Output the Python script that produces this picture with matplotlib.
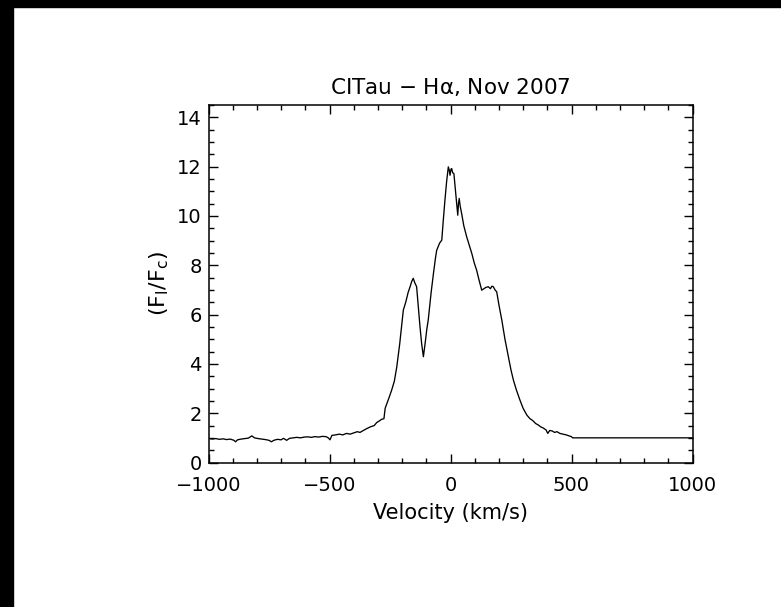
import matplotlib
matplotlib.use('Agg')
import matplotlib.pyplot as plt
from matplotlib.ticker import MultipleLocator
from matplotlib.patches import Rectangle

plt.rcParams['font.family'] = ['DejaVu Sans']
plt.rcParams['mathtext.default'] = 'regular'

# H-alpha profile (velocity in km/s, normalised flux)
vel = [-1000, -985, -970, -955, -940, -925, -910, -895, -888, -880, -865, -850,
       -835, -821, -810, -795, -780, -765, -750, -740, -730, -715, -700, -690,
       -677, -665, -650, -635, -620, -605, -590, -575, -560, -545, -530, -515,
       -505, -498, -490, -475, -460, -445, -430, -415, -400, -385, -374, -360,
       -345, -330, -315, -305, -295, -285, -275,
       -270, -255, -243, -232, -222, -210, -200, -195, -185, -175, -167, -160,
       -154, -148, -140, -133, -126, -119, -112, -104, -98, -92, -80, -70, -62,
       -57, -45, -36, -30, -23, -16, -9, -5, -2, 2, 5, 9, 14, 18, 24, 30, 33,
       36, 40, 46, 55, 67, 78, 88, 98, 108, 118, 129, 138, 146, 156, 165, 171,
       177, 184, 191, 200, 212, 225, 239, 250, 260, 272, 287, 300, 315, 328,
       340, 352, 363, 372, 383, 395, 402, 410, 420, 430, 440, 452, 465, 478,
       490, 499, 505, 1000]
flux = [0.98, 0.95, 0.97, 0.94, 0.96, 0.93, 0.95, 0.90, 0.84, 0.92, 0.95, 0.97,
        0.99, 1.08, 1.00, 0.97, 0.95, 0.93, 0.90, 0.84, 0.90, 0.94, 0.92, 0.98,
        0.90, 0.98, 1.00, 1.02, 1.00, 1.03, 1.04, 1.02, 1.05, 1.03, 1.06, 1.05,
        1.00, 0.92, 1.10, 1.12, 1.15, 1.12, 1.18, 1.15, 1.20, 1.25, 1.22, 1.30,
        1.38, 1.45, 1.50, 1.62, 1.68, 1.75, 1.78,
        2.2, 2.6, 2.94, 3.3, 3.88, 4.8, 5.7, 6.18, 6.5, 6.9, 7.13, 7.35,
        7.47, 7.3, 7.13, 6.3, 5.5, 4.8, 4.29, 4.9, 5.4, 5.78, 6.9, 7.7, 8.3,
        8.61, 8.9, 9.02, 9.8, 10.64, 11.4, 11.99, 11.85, 11.65, 11.9, 11.92,
        11.75, 11.72, 11.3, 10.7, 10.03, 10.5,
        10.71, 10.4, 10.1, 9.6, 9.15, 8.8, 8.48, 8.1, 7.8, 7.4, 6.99, 7.05, 7.1,
        7.13, 7.05, 7.15, 7.13, 7.0, 6.92, 6.4, 5.78, 5.0, 4.29, 3.75, 3.34,
        2.95, 2.53, 2.2, 1.93, 1.78, 1.70, 1.58, 1.52, 1.45, 1.40, 1.32, 1.18,
        1.30, 1.28, 1.22, 1.25, 1.18, 1.15, 1.12, 1.08, 1.05, 1.0, 1.0]

fig = plt.figure(figsize=(7.81, 6.07), dpi=100)
W, H = 781, 607
ax = fig.add_axes([208.5 / W, (H - 462.5) / H, 484 / W, (462.5 - 105) / H])

ax.plot(vel, flux, color='black', lw=0.95)
ax.set_xlim(-1000, 1000)
ax.set_ylim(0, 14.5)

ax.xaxis.set_major_locator(MultipleLocator(500))
ax.xaxis.set_minor_locator(MultipleLocator(100))
ax.yaxis.set_major_locator(MultipleLocator(2))
ax.yaxis.set_minor_locator(MultipleLocator(0.5))
ax.tick_params(which='both', direction='in', top=True, right=True,
               width=1.0, labelsize=14)
ax.tick_params(axis='x', pad=9.5)
ax.tick_params(axis='y', pad=5)
ax.tick_params(which='major', length=6.5)
ax.tick_params(which='minor', length=3.3)
for s in ax.spines.values():
    s.set_linewidth(1.1)

ax.set_xlabel('Velocity (km/s)', fontsize=15, labelpad=6)
ax.set_ylabel('(F$_l$/F$_c$)', fontsize=16, labelpad=4)
ax.set_title(r'CITau $-$ H$\alpha$, Nov 2007', fontsize=15.5, pad=8)

# black strips at top and left edge of the image
fig.patches.append(Rectangle((0, 1 - 7 / H), 1, 7 / H, transform=fig.transFigure,
                             color='black', zorder=10))
fig.patches.append(Rectangle((0, 0), 13 / W, 1, transform=fig.transFigure,
                             color='black', zorder=10))

fig.savefig('out.png', dpi=100)
